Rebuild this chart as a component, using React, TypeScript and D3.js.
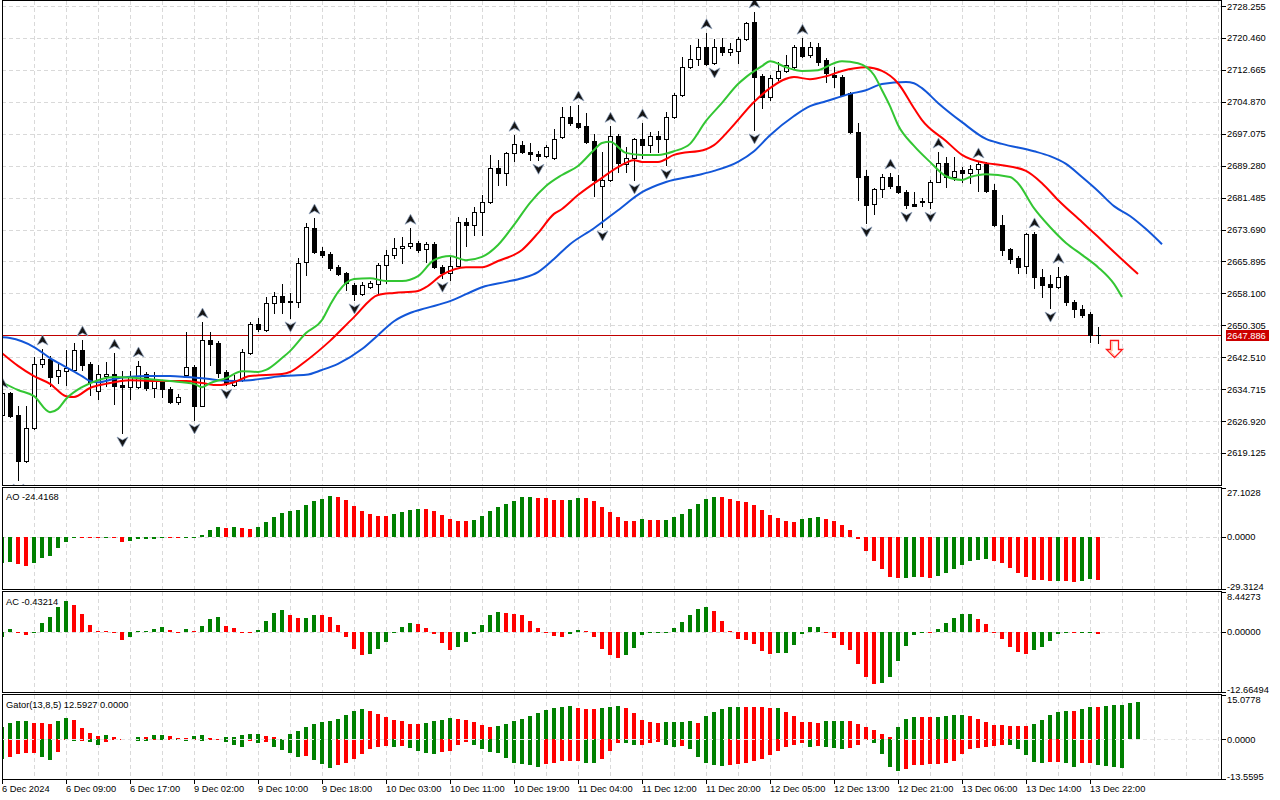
import * as d3 from 'd3';

// bar time labels, one every 8 bars
const timeLabels = [
  '6 Dec 2024', '6 Dec 09:00', '6 Dec 17:00', '9 Dec 02:00', '9 Dec 10:00', '9 Dec 18:00',
  '10 Dec 03:00', '10 Dec 11:00', '10 Dec 19:00', '11 Dec 04:00', '11 Dec 12:00', '11 Dec 20:00',
  '12 Dec 05:00', '12 Dec 13:00', '12 Dec 21:00', '13 Dec 06:00', '13 Dec 14:00', '13 Dec 22:00',
];

const open = [
  2628.4, 2633.8, 2628.4, 2617.2, 2625.2, 2640.9, 2642.1, 2637.9, 2639.1, 2639.4,
  2644.3, 2640.9, 2634.3, 2637.9, 2638.4, 2635.7, 2635.2, 2635.2, 2638.4, 2635.0,
  2636.4, 2634.7, 2631.6, 2638.2, 2640.1, 2630.6, 2646.7, 2646.0, 2638.9, 2635.7,
  2636.9, 2643.5, 2650.6, 2649.2, 2655.7, 2657.4, 2656.2, 2656.0, 2665.7, 2674.0,
  2668.4, 2667.7, 2664.5, 2663.1, 2660.1, 2657.9, 2659.6, 2660.4, 2665.0, 2667.5,
  2669.2, 2669.6, 2670.4, 2668.9, 2670.1, 2664.5, 2663.1, 2664.8, 2675.5, 2674.8,
  2678.0, 2680.4, 2688.7, 2687.5, 2692.4, 2694.3, 2692.6, 2692.1, 2691.6, 2691.1,
  2696.3, 2701.1, 2699.7, 2698.9, 2695.3, 2684.3, 2685.8, 2696.5, 2689.7, 2691.1,
  2695.8, 2694.3, 2696.5, 2695.8, 2701.1, 2706.5, 2713.4, 2715.3, 2718.2, 2714.3,
  2718.2, 2717.0, 2717.3, 2720.2, 2724.3, 2711.1, 2706.0, 2710.7, 2712.4, 2713.4,
  2718.2, 2716.3, 2718.2, 2715.1, 2711.4, 2710.9, 2707.0, 2697.5, 2686.7, 2679.9,
  2683.6, 2686.5, 2684.3, 2682.8, 2679.9, 2680.6, 2680.4, 2685.3, 2689.9, 2686.5,
  2688.2, 2687.5, 2688.4, 2689.7, 2683.3, 2674.8, 2668.9, 2666.7, 2664.8, 2672.6,
  2662.1, 2660.4, 2659.6, 2662.3, 2656.0, 2654.3, 2653.1, 2647.9,
];

const high = [
  2634.0, 2634.0, 2630.6, 2630.6, 2642.6, 2644.5, 2642.8, 2641.1, 2644.3, 2646.0,
  2646.7, 2641.3, 2640.6, 2641.3, 2643.5, 2639.1, 2639.1, 2641.6, 2638.9, 2638.9,
  2636.9, 2635.2, 2633.5, 2648.7, 2640.6, 2651.1, 2648.7, 2646.5, 2639.4, 2638.2,
  2644.5, 2651.1, 2652.1, 2657.2, 2658.4, 2660.4, 2658.2, 2666.7, 2675.3, 2676.5,
  2669.4, 2668.2, 2665.0, 2663.3, 2660.6, 2660.9, 2661.1, 2665.5, 2668.7, 2671.6,
  2671.9, 2674.0, 2670.9, 2670.6, 2670.6, 2665.0, 2667.0, 2676.7, 2676.5, 2679.2,
  2682.1, 2691.9, 2690.6, 2692.6, 2696.7, 2695.3, 2694.8, 2692.8, 2694.3, 2698.2,
  2703.6, 2703.8, 2704.1, 2702.1, 2697.0, 2692.6, 2698.9, 2697.0, 2693.8, 2696.0,
  2699.7, 2697.5, 2697.7, 2702.4, 2707.0, 2715.8, 2718.7, 2720.2, 2721.7, 2720.2,
  2720.4, 2719.2, 2720.7, 2724.3, 2726.8, 2711.6, 2711.4, 2714.6, 2716.3, 2718.7,
  2720.4, 2719.5, 2719.2, 2715.5, 2713.4, 2711.4, 2707.2, 2699.7, 2688.2, 2683.8,
  2687.2, 2687.5, 2687.0, 2683.3, 2682.8, 2681.4, 2685.8, 2692.6, 2691.4, 2691.4,
  2688.9, 2689.4, 2690.2, 2690.2, 2684.8, 2677.2, 2669.2, 2667.2, 2672.8, 2673.1,
  2664.0, 2662.6, 2664.5, 2662.6, 2656.5, 2655.2, 2653.5, 2649.9,
];

const low = [
  2628.2, 2627.9, 2612.5, 2617.0, 2625.0, 2640.1, 2635.5, 2636.2, 2635.7, 2639.1,
  2639.4, 2633.3, 2632.3, 2635.5, 2631.1, 2624.0, 2632.3, 2635.0, 2634.5, 2632.8,
  2632.8, 2631.3, 2631.1, 2637.9, 2627.2, 2630.6, 2640.6, 2637.7, 2635.7, 2635.5,
  2636.7, 2643.3, 2648.9, 2648.9, 2653.3, 2653.3, 2652.1, 2654.8, 2662.6, 2667.9,
  2667.0, 2663.8, 2662.6, 2658.9, 2656.5, 2657.7, 2659.4, 2658.2, 2660.6, 2666.7,
  2665.5, 2669.2, 2668.2, 2665.7, 2664.3, 2661.8, 2661.4, 2664.8, 2669.6, 2672.3,
  2672.3, 2680.2, 2684.5, 2684.5, 2690.4, 2692.4, 2690.6, 2690.6, 2691.4, 2690.9,
  2696.0, 2699.2, 2698.5, 2694.8, 2681.9, 2674.3, 2685.5, 2687.7, 2687.7, 2685.8,
  2691.1, 2692.6, 2692.6, 2689.4, 2700.9, 2706.3, 2713.1, 2713.8, 2713.8, 2714.1,
  2716.3, 2716.3, 2714.3, 2720.0, 2698.0, 2703.3, 2705.3, 2710.2, 2712.1, 2713.1,
  2715.8, 2715.8, 2713.8, 2709.7, 2708.5, 2706.3, 2697.2, 2680.9, 2675.3, 2677.5,
  2681.6, 2683.8, 2682.6, 2678.9, 2679.4, 2679.4, 2678.9, 2685.3, 2684.1, 2685.8,
  2685.3, 2685.0, 2683.1, 2682.8, 2674.5, 2667.5, 2665.5, 2663.1, 2663.1, 2659.4,
  2657.2, 2654.5, 2659.4, 2655.2, 2652.3, 2652.3, 2646.2, 2646.0,
];

const close = [
  2633.8, 2628.2, 2617.2, 2625.2, 2640.9, 2642.1, 2637.7, 2639.4, 2639.9, 2644.3,
  2640.6, 2636.4, 2638.4, 2638.4, 2635.5, 2635.2, 2637.7, 2640.4, 2635.0, 2636.9,
  2634.7, 2631.6, 2632.8, 2640.1, 2630.6, 2646.7, 2645.7, 2638.6, 2636.2, 2636.9,
  2643.8, 2650.6, 2649.4, 2655.7, 2657.4, 2656.0, 2656.0, 2665.5, 2674.3, 2668.2,
  2667.5, 2664.3, 2662.8, 2660.6, 2657.9, 2660.1, 2660.6, 2665.0, 2667.5, 2669.2,
  2669.6, 2670.4, 2668.7, 2670.1, 2664.5, 2663.1, 2664.8, 2675.5, 2674.8, 2678.0,
  2680.4, 2688.7, 2687.5, 2692.4, 2694.6, 2692.6, 2692.1, 2691.6, 2693.8, 2695.8,
  2701.1, 2699.7, 2698.7, 2695.1, 2685.8, 2685.8, 2696.5, 2689.9, 2691.1, 2695.8,
  2694.3, 2696.5, 2695.8, 2701.1, 2706.5, 2713.4, 2715.3, 2718.2, 2714.1, 2718.2,
  2717.0, 2717.7, 2720.2, 2724.1, 2710.9, 2706.0, 2710.7, 2712.4, 2713.8, 2718.2,
  2716.0, 2718.2, 2714.6, 2711.9, 2710.9, 2706.5, 2697.5, 2686.5, 2679.7, 2683.6,
  2686.5, 2684.3, 2682.8, 2679.7, 2679.4, 2680.4, 2685.3, 2689.9, 2686.5, 2688.0,
  2687.5, 2688.4, 2689.7, 2683.1, 2674.8, 2668.7, 2666.5, 2664.5, 2672.6, 2662.1,
  2660.1, 2659.6, 2662.1, 2656.0, 2654.3, 2652.8, 2647.9, 2647.886,
];

// bars carrying a fractal mark
const fractalUp = [0, 5, 10, 14, 17, 25, 39, 51, 64, 72, 76, 80, 88, 94, 100, 111, 117, 122, 129, 132];
const fractalDown = [2, 15, 24, 28, 36, 44, 55, 67, 75, 79, 83, 89, 94, 108, 113, 116, 131];

// alligator lines, read as [bar, price]
const jaw: [number, number][] = [
  [0, 2647.4], [1, 2647.2], [4, 2645.0], [6, 2642.3], [8, 2640.1], [10, 2637.9], [11, 2636.7],
  [12, 2636.4], [14, 2637.2], [18, 2637.9], [21, 2637.9], [23, 2637.7], [25, 2637.4], [27, 2636.9],
  [29, 2636.7], [31, 2636.9], [33, 2637.4], [35, 2637.9], [38, 2638.2], [40, 2639.4], [42, 2640.9],
  [45, 2644.5], [47, 2647.9], [49, 2651.3], [51, 2653.3], [53, 2654.5], [56, 2656.2], [58, 2657.9],
  [60, 2659.6], [63, 2660.9], [65, 2661.8], [67, 2663.3], [69, 2666.5], [71, 2670.1], [74, 2674.0],
  [77, 2678.4], [80, 2682.8], [83, 2685.3], [87, 2687.0], [89, 2688.0], [92, 2690.2], [94, 2692.8],
  [96, 2696.7], [99, 2701.4], [101, 2703.8], [103, 2705.0], [106, 2706.8], [108, 2707.7],
  [110, 2709.2], [113, 2709.7], [114, 2709.4], [115, 2708.2], [117, 2704.6], [120, 2699.9],
  [123, 2695.8], [125, 2694.6], [129, 2692.8], [131, 2691.6], [133, 2689.7], [135, 2686.5],
  [137, 2683.1], [139, 2679.4], [141, 2677.0], [143, 2673.8], [145, 2670.1],
];

const teeth: [number, number][] = [
  [0, 2643.5], [2, 2640.4], [4, 2637.9], [6, 2636.0], [8, 2633.0], [9, 2632.8], [11, 2635.0],
  [13, 2636.0], [16, 2636.9], [19, 2636.7], [23, 2636.7], [25, 2636.2], [27, 2635.7], [29, 2636.4],
  [31, 2637.9], [35, 2638.4], [36, 2638.9], [38, 2641.6], [41, 2646.5], [44, 2652.3], [47, 2657.7],
  [49, 2658.2], [52, 2658.7], [53, 2659.6], [55, 2662.6], [58, 2664.5], [60, 2664.5], [62, 2666.0],
  [65, 2668.7], [67, 2672.8], [69, 2677.5], [70, 2678.7], [72, 2682.1], [75, 2686.3], [77, 2688.9],
  [79, 2690.6], [80, 2690.2], [82, 2690.2], [84, 2691.9], [88, 2693.3], [89, 2694.3], [91, 2698.2],
  [94, 2704.8], [96, 2708.2], [99, 2710.9], [101, 2710.4], [103, 2711.1], [105, 2712.4],
  [108, 2713.3], [110, 2712.4], [112, 2709.4], [114, 2703.3], [115, 2700.4], [118, 2695.3],
  [120, 2691.9], [123, 2689.9], [125, 2689.4], [128, 2688.0], [130, 2685.0], [132, 2680.9],
  [135, 2675.5], [137, 2671.9], [139, 2668.2], [142, 2662.8],
];

const lips: [number, number][] = [
  [0, 2636.4], [2, 2634.5], [4, 2633.0], [6, 2629.1], [7, 2629.9], [8, 2632.3], [10, 2635.2],
  [12, 2636.9], [14, 2637.7], [17, 2637.4], [21, 2636.7], [24, 2636.0], [25, 2635.2], [26, 2636.2],
  [28, 2637.4], [30, 2639.1], [32, 2638.9], [33, 2639.4], [35, 2642.3], [36, 2644.0], [38, 2648.4],
  [40, 2651.6], [41, 2655.2], [42, 2658.4], [44, 2661.6], [46, 2661.8], [48, 2661.1], [50, 2661.1],
  [52, 2662.3], [54, 2666.2], [56, 2667.2], [58, 2666.2], [60, 2667.0], [62, 2669.9], [64, 2674.8],
  [66, 2680.2], [68, 2684.3], [70, 2687.0], [72, 2689.2], [74, 2693.1], [75, 2694.8], [76, 2695.1],
  [78, 2692.4], [80, 2691.9], [82, 2691.9], [84, 2692.8], [86, 2694.6], [88, 2700.2], [90, 2704.6],
  [92, 2709.2], [93, 2710.9], [95, 2713.6], [96, 2714.8], [98, 2713.3], [100, 2712.4],
  [102, 2712.6], [104, 2714.3], [105, 2714.8], [107, 2714.3], [109, 2711.4], [110, 2707.7],
  [111, 2703.8], [112, 2699.2], [114, 2694.1], [116, 2690.2], [118, 2686.7], [120, 2685.8],
  [121, 2686.5], [123, 2687.2], [126, 2686.5], [127, 2685.0], [129, 2678.9], [131, 2674.3],
  [133, 2670.4], [135, 2667.5], [137, 2664.5], [139, 2660.4], [140, 2657.2],
];

const aoValues = [
  -15.0, -14.1, -15.4, -16.4, -15.0, -12.2, -10.7, -6.6, -2.8, -0.6,
  -0.7, -0.75, -0.9, -0.6, -1.0, -2.8, -2.5, -1.4, -1.3, -1.2,
  -0.3, -0.4, -0.9, -0.4, -0.2, 0.9, 3.4, 5.1, 4.7, 5.1,
  4.5, 4.4, 5.1, 7.9, 10.7, 13.2, 14.1, 15.0, 17.5, 19.7,
  21.2, 22.4, 22.3, 20.3, 16.9, 14.5, 12.4, 11.3, 11.2, 12.4,
  13.5, 14.7, 15.2, 15.1, 14.1, 11.8, 9.6, 8.5, 8.4, 9.0,
  11.3, 14.1, 16.4, 18.0, 19.7, 22.0, 22.1, 21.4, 21.3, 20.3,
  20.2, 20.4, 21.4, 21.3, 19.7, 16.4, 13.5, 10.7, 8.5, 8.4,
  9.6, 9.5, 9.0, 9.1, 10.7, 12.4, 15.2, 18.0, 20.9, 22.0,
  21.9, 21.2, 19.7, 19.2, 17.5, 14.7, 11.8, 10.2, 8.5, 7.9,
  9.6, 10.2, 10.7, 9.6, 8.5, 6.2, 3.9, -1.5, -7.9, -13.5,
  -18.4, -22.6, -23.1, -23.0, -22.6, -22.7, -23.1, -22.0, -20.3, -18.0,
  -15.8, -13.5, -13.2, -12.8, -13.5, -15.0, -17.5, -20.3, -22.6, -24.1,
  -24.4, -25.0, -24.8, -24.9, -25.2, -24.6, -24.0, -24.4168,
];

const acValues = [
  -1.0, 0.56, -0.1, -0.7, 0.05, 2.0, 3.2, 5.3, 6.5, 5.8,
  3.7, 1.5, 0.2, 0.15, -0.3, -1.7, -1.0, 0.2, 0.3, 0.7,
  1.0, 0.4, -0.3, 0.6, 0.2, 1.3, 2.7, 3.2, 1.3, 0.8,
  0.1, 0.05, 0.4, 2.3, 4.1, 4.6, 3.6, 3.0, 3.05, 3.6,
  3.55, 3.2, 1.5, -1.0, -3.5, -4.8, -4.7, -3.5, -2.1, -0.1,
  1.06, 2.0, 1.76, 0.84, -0.5, -2.25, -3.8, -3.1, -2.1, -0.35,
  1.5, 3.6, 4.2, 4.0, 3.9, 3.6, 2.3, 0.84, -0.14, -0.84,
  -1.06, -0.35, 0.35, 0.3, -1.0, -3.66, -4.86, -5.5, -4.86, -3.4,
  -0.56, -0.1, -0.05, 0.05, 0.84, 2.1, 3.6, 4.9, 5.3, 4.4,
  2.3, 0.15, -1.4, -1.6, -2.5, -4.0, -4.6, -4.4, -4.35, -2.7,
  -0.35, 1.06, 1.1, -0.1, -1.2, -2.7, -3.9, -6.7, -9.5, -10.9,
  -10.85, -9.5, -6.05, -2.9, -0.56, -0.05, -0.1, 0.7, 2.0, 3.0,
  3.8, 3.85, 2.7, 1.7, 0.1, -1.4, -3.1, -4.15, -4.6, -3.9,
  -3.1, -1.8, -0.35, -0.02, -0.2, -0.05, 0.1, -0.43214,
];

const gatorUpper = [
  4.3, 5.45, 6.25, 6.35, 5.7, 5.65, 5.2, 6.25, 7.3, 6.6,
  3.9, 2.15, 1.15, 1.5, 0.9, 0.1, 0.2, 0.8, 0.7, 1.35,
  1.4, 1.15, 0.45, 0.35, 1.1, 1.45, 0.4, 0.2, 0.8, 0.9,
  1.3, 1.8, 1.85, 1.1, 0.6, 0.1, 1.7, 2.85, 4.0, 5.1,
  5.9, 6.25, 7.05, 8.2, 9.55, 10.2, 9.5, 8.5, 7.6, 6.6,
  6.25, 5.35, 5.2, 5.7, 6.25, 6.6, 7.3, 6.8, 6.5, 5.9,
  4.9, 4.3, 4.55, 5.35, 6.25, 6.8, 7.95, 9.1, 10.0, 10.8,
  11.1, 11.35, 10.8, 10.45, 10.35, 10.8, 11.15, 11.4, 10.55, 8.85,
  6.6, 5.9, 5.45, 5.8, 5.9, 6.0, 6.1, 5.7, 7.95, 9.3,
  10.45, 11.0, 11.1, 11.05, 11.0, 10.95, 10.5, 10.6, 9.4, 7.8,
  6.0, 5.9, 5.45, 6.1, 6.25, 6.3, 6.1, 5.1, 4.2, 3.2,
  1.7, 0.8, 4.2, 6.8, 7.6, 7.55, 7.5, 7.6, 7.95, 8.2,
  8.3, 7.95, 6.8, 5.9, 5.0, 4.9, 4.55, 4.5, 4.45, 5.1,
  6.5, 8.2, 9.3, 9.65, 9.55, 10.2, 11.0, 10.95, 11.35, 11.6,
  11.7, 12.3, 12.5927,
];

const gatorLower = [
  -6.6, -5.9, -4.9, -4.8, -4.55, -5.9, -7.05, -4.2, -0.3, -0.7,
  -0.6, -1.1, -2.0, -1.0, -0.2, -0.1, -0.3, -0.5, -0.6, -0.2,
  -0.3, -0.2, -0.4, -0.6, -0.3, -0.5, -0.2, -0.1, -0.9, -2.05,
  -2.5, -0.55, -1.15, -0.9, -2.5, -3.65, -4.55, -5.9, -5.85, -7.05,
  -8.5, -9.9, -8.85, -7.95, -6.8, -4.9, -3.4, -2.5, -2.3, -2.5,
  -2.25, -2.85, -4.0, -4.55, -4.9, -4.5, -4.0, -1.95, -0.8, -2.05,
  -3.4, -4.3, -4.55, -6.25, -7.95, -8.3, -8.85, -9.3, -8.5, -7.95,
  -7.5, -7.4, -7.35, -7.95, -8.0, -6.6, -4.0, -1.15, -1.2, -2.05,
  -1.95, -1.15, -1.1, -2.05, -2.5, -2.3, -3.4, -5.9, -7.95, -8.85,
  -9.1, -8.85, -8.5, -7.95, -7.4, -6.6, -5.45, -4.0, -2.5, -1.8,
  -1.15, -2.5, -2.45, -2.5, -2.85, -3.2, -2.85, -1.8, -0.25, -1.35,
  -5.1, -9.3, -11.0, -10.2, -8.85, -8.8, -8.5, -8.45, -7.95, -7.4,
  -4.9, -3.4, -2.85, -2.5, -2.25, -2.05, -2.1, -3.4, -5.45, -7.7,
  -8.2, -7.7, -7.65, -8.2, -9.3, -8.2, -8.15, -8.85, -9.1, -9.3,
  -9.65,
];
const gatorLowerLast = 0;

const priceTicks = [
  2728.255, 2720.46, 2712.665, 2704.87, 2697.075, 2689.28, 2681.485, 2673.69,
  2665.895, 2658.1, 2650.305, 2642.51, 2634.715, 2626.92, 2619.125,
];
const aoTicks = [27.1028, 0, -29.3124];
const acTicks = [8.44273, 0, -12.66494];
const gatorTicks = [15.0778, 0, -13.5595];

const lastPrice = 2647.886;
const signalBar = 139;
const signalPrice = 2646.7;

const GREEN = '#008000';
const RED = '#ff0000';
const GRID = '#d9d9d9';
const FONT = '"Liberation Sans", Arial, sans-serif';

const L = 2;
const R = 1222;
const panels = {
  main: {top: 1, bottom: 485},
  ao: {top: 488, bottom: 589},
  ac: {top: 592, bottom: 692},
  gator: {top: 695, bottom: 779},
};

const x = d3.scaleLinear().domain([0, 152.5]).range([L, R]);
const yPrice = d3.scaleLinear().domain([2611.31, 2729.48]).range([panels.main.bottom, panels.main.top]);
const yAO = d3.scaleLinear().domain([-29.3124, 27.1028]).range([panels.ao.bottom, panels.ao.top]);
const yAC = d3.scaleLinear().domain([-12.66494, 8.44273]).range([panels.ac.bottom, panels.ac.top]);
const yGator = d3.scaleLinear().domain([-13.5595, 15.0778]).range([panels.gator.bottom, panels.gator.top]);

const px = (v: number) => Math.round(v) + 0.5;

const gridXs = d3.range(0, 153, 4).map((b) => x(b));

function VGrid({top, bottom}: {top: number; bottom: number}) {
  return (
    <g>
      {gridXs.map((gx, i) => (
        <line key={i} x1={px(gx)} x2={px(gx)} y1={top} y2={bottom} stroke={GRID} strokeDasharray="4,3" />
      ))}
    </g>
  );
}

function Histogram({
  values,
  y,
  colorOf,
}: {
  values: number[];
  y: d3.ScaleLinear<number, number>;
  colorOf: (i: number) => string;
}) {
  const y0 = Math.round(y(0));
  return (
    <g shapeRendering="crispEdges">
      {values.map((v, i) => {
        const yv = Math.round(y(v));
        const top = Math.min(y0, yv);
        const h = Math.max(1, Math.abs(yv - y0));
        return <rect key={i} x={Math.round(x(i)) - 2} y={v >= 0 ? top : y0} width={4} height={h} fill={colorOf(i)} />;
      })}
    </g>
  );
}

const upDown = (vals: number[]) => (i: number) => (i === 0 || vals[i] > vals[i - 1] ? GREEN : RED);
const absUpDown = (vals: number[]) => (i: number) =>
  i === 0 || Math.abs(vals[i]) > Math.abs(vals[i - 1]) ? GREEN : RED;

function RightLabels({ticks, y, digits}: {ticks: number[]; y: d3.ScaleLinear<number, number>; digits: number}) {
  return (
    <g>
      {ticks.map((t, i) => {
        const ty = Math.min(Math.max(y(t), y.range()[1] + 4), y.range()[0] - 3);
        return (
          <g key={i}>
            <line x1={R} x2={R + 4} y1={px(y(t))} y2={px(y(t))} stroke="#000" />
            <text x={R + 5} y={ty + 3.5} fontSize={9.3} fill="#000">
              {t.toFixed(digits)}
            </text>
          </g>
        );
      })}
    </g>
  );
}

function Frame({top, bottom}: {top: number; bottom: number}) {
  return <rect x={L + 0.5} y={top - 0.5} width={R - L - 1} height={bottom - top + 1} fill="none" stroke="#000" />;
}

export default function App() {
  const line = d3
    .line<[number, number]>()
    .x((d) => x(d[0]))
    .y((d) => yPrice(d[1]))
    .curve(d3.curveMonotoneX);

  const m = panels.main;
  const lastY = px(yPrice(lastPrice));

  const sx = Math.round(x(signalBar)) + 0.5;
  const sy = Math.round(yPrice(signalPrice)) + 0.5;
  const arrow = `M${sx - 4},${sy} L${sx + 4},${sy} L${sx + 4},${sy + 9} L${sx + 8},${sy + 9} L${sx},${sy + 17} L${sx - 8},${sy + 9} L${sx - 4},${sy + 9} Z`;

  return (
    <div style={{position: 'absolute', left: 0, top: 0, width: 1280, height: 800, background: '#fff'}}>
      <svg width={1280} height={800} style={{display: 'block', fontFamily: FONT}}>
        <defs>
          {Object.entries(panels).map(([k, p]) => (
            <clipPath id={`clip-${k}`} key={k}>
              <rect x={L + 1} y={p.top} width={R - L - 1} height={p.bottom - p.top} />
            </clipPath>
          ))}
        </defs>

        {/* main price panel */}
        <g clipPath="url(#clip-main)">
          <VGrid top={m.top} bottom={m.bottom} />
          {priceTicks.map((t, i) => (
            <line key={i} x1={L} x2={R} y1={px(yPrice(t))} y2={px(yPrice(t))} stroke={GRID} strokeDasharray="4,3" />
          ))}
          <line x1={L} x2={R} y1={lastY} y2={lastY} stroke="#c00000" />

          <g shapeRendering="crispEdges">
            {open.map((o, i) => {
              const c = close[i];
              const cx = Math.round(x(i));
              const yH = Math.round(yPrice(high[i]));
              const yL = Math.round(yPrice(low[i]));
              const yO = Math.round(yPrice(o));
              const yC = Math.round(yPrice(c));
              const top = Math.min(yO, yC);
              const h = Math.abs(yO - yC);
              return (
                <g key={i}>
                  <line x1={cx + 0.5} x2={cx + 0.5} y1={yH} y2={yL + 1} stroke="#000" />
                  {h < 1 ? (
                    <line x1={cx - 2} x2={cx + 3} y1={top + 0.5} y2={top + 0.5} stroke="#000" />
                  ) : (
                    <rect x={cx - 1.5} y={top + 0.5} width={4} height={h} fill={c >= o ? '#fff' : '#000'} stroke="#000" />
                  )}
                </g>
              );
            })}
          </g>

          <path d={line(jaw) ?? ''} fill="none" stroke="#1256d8" strokeWidth={2} />
          <path d={line(teeth) ?? ''} fill="none" stroke="#ff0000" strokeWidth={2} />
          <path d={line(lips) ?? ''} fill="none" stroke="#33c633" strokeWidth={2} />

          {fractalUp.map((b) => (
            <path
              key={`u${b}`}
              transform={`translate(${Math.round(x(b)) + 0.5},${yPrice(high[b]) - 9})`}
              d="M0,-5 L5.5,5 L0,2 L-5.5,5 Z"
              fill="#151515"
              stroke="#8da0bd"
              strokeWidth={0.7}
            />
          ))}
          {fractalDown.map((b) => (
            <path
              key={`d${b}`}
              transform={`translate(${Math.round(x(b)) + 0.5},${yPrice(low[b]) + 9})`}
              d="M0,5 L5.5,-5 L0,-2 L-5.5,-5 Z"
              fill="#151515"
              stroke="#8da0bd"
              strokeWidth={0.7}
            />
          ))}

          <path d={arrow} fill="#fff" stroke="#ff1a1a" strokeWidth={1.3} strokeLinejoin="miter" />
          <path
            d={`M${sx - 2.5},${sy + 1.5} L${sx - 2.5},${sy + 10.5} L${sx - 5},${sy + 10.5} L${sx},${sy + 15}`}
            fill="none"
            stroke="#ffb080"
            strokeWidth={1}
          />
        </g>
        <Frame top={m.top} bottom={m.bottom} />

        {priceTicks.map((t, i) => (
          <g key={i}>
            <line x1={R} x2={R + 4} y1={px(yPrice(t))} y2={px(yPrice(t))} stroke="#000" />
            <text x={R + 5} y={yPrice(t) + 3.5} fontSize={9.3} fill="#000">
              {t.toFixed(3)}
            </text>
          </g>
        ))}
        <rect x={R + 4} y={Math.round(yPrice(lastPrice)) - 5} width={43} height={11} fill="#cc0000" />
        <text x={R + 5} y={yPrice(lastPrice) + 3.5} fontSize={9.3} fill="#fff">
          {lastPrice.toFixed(3)}
        </text>

        {/* AO */}
        <g clipPath="url(#clip-ao)">
          <VGrid top={panels.ao.top} bottom={panels.ao.bottom} />
          <line x1={L} x2={R} y1={px(yAO(0))} y2={px(yAO(0))} stroke={GRID} strokeDasharray="4,3" />
          <Histogram values={aoValues} y={yAO} colorOf={upDown(aoValues)} />
        </g>
        <Frame top={panels.ao.top} bottom={panels.ao.bottom} />
        <text x={6} y={panels.ao.top + 11.5} fontSize={9.3} fill="#000">
          {`AO ${aoValues[aoValues.length - 1].toFixed(4)}`}
        </text>
        <RightLabels ticks={aoTicks} y={yAO} digits={4} />

        {/* AC */}
        <g clipPath="url(#clip-ac)">
          <VGrid top={panels.ac.top} bottom={panels.ac.bottom} />
          <line x1={L} x2={R} y1={px(yAC(0))} y2={px(yAC(0))} stroke={GRID} strokeDasharray="4,3" />
          <Histogram values={acValues} y={yAC} colorOf={upDown(acValues)} />
        </g>
        <Frame top={panels.ac.top} bottom={panels.ac.bottom} />
        <text x={6} y={panels.ac.top + 12.5} fontSize={9.3} fill="#000">
          {`AC ${acValues[acValues.length - 1].toFixed(5)}`}
        </text>
        <RightLabels ticks={acTicks} y={yAC} digits={5} />

        {/* Gator */}
        <g clipPath="url(#clip-gator)">
          <VGrid top={panels.gator.top} bottom={panels.gator.bottom} />
          <Histogram values={gatorUpper} y={yGator} colorOf={absUpDown(gatorUpper)} />
          <Histogram values={gatorLower} y={yGator} colorOf={absUpDown(gatorLower)} />
          <line x1={L} x2={R} y1={px(yGator(0))} y2={px(yGator(0))} stroke="#e4e4e4" strokeDasharray="4,3" />
        </g>
        <Frame top={panels.gator.top} bottom={panels.gator.bottom} />
        <text x={6} y={panels.gator.top + 12.5} fontSize={9.3} fill="#000">
          {`Gator(13,8,5) ${gatorUpper[gatorUpper.length - 1].toFixed(4)} ${gatorLowerLast.toFixed(4)}`}
        </text>
        <RightLabels ticks={gatorTicks} y={yGator} digits={4} />

        {/* time axis */}
        {timeLabels.map((t, i) => {
          const tx = Math.round(x(i * 8));
          return (
            <g key={t}>
              <line x1={tx + 0.5} x2={tx + 0.5} y1={panels.gator.bottom} y2={panels.gator.bottom + 5} stroke="#000" />
              <text x={tx} y={792} fontSize={9.3} fill="#000">
                {t}
              </text>
            </g>
          );
        })}
      </svg>
    </div>
  );
}
